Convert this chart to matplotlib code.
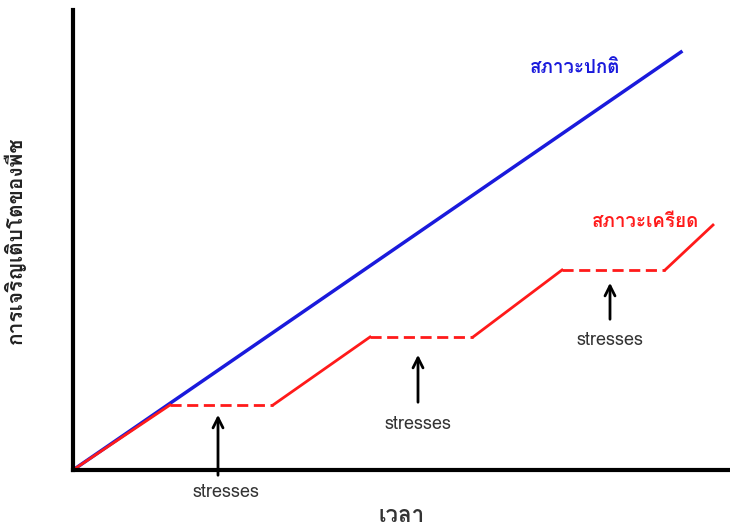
import matplotlib.pyplot as plt

plt.rcParams['font.family'] = ['Loma', 'DejaVu Sans']

# Data (time vs growth, in chart units)
normal_x = [0, 608]
normal_y = [0, 418]

stress_x = [0, 97, 200, 297, 400, 489, 592, 640]
stress_y = [0, 65, 65, 133, 133, 200, 200, 245]
# which red segments are dashed (stress periods)
stress_dashed = [False, True, False, True, False, True, False]

arrow_x = [145, 345, 537]
arrow_head = [58, 118, 190]
arrow_tail = [-8, 65, 148]
label_x = [153, 345, 537]
label_y = [-22, 46, 130]

fig = plt.figure(figsize=(7.3, 5.29), dpi=100)
ax = fig.add_axes([0.1, 0.1115, 0.9, 0.8696])
ax.set_xlim(0, 657)
ax.set_ylim(0, 460)

ax.plot(normal_x, normal_y, color='#1a1adc', lw=2.5)
for i, dashed in enumerate(stress_dashed):
    ax.plot(stress_x[i:i + 2], stress_y[i:i + 2], color='#ff1a1a', lw=2,
            ls=(0, (4, 2)) if dashed else '-')

for x, h, t in zip(arrow_x, arrow_head, arrow_tail):
    ax.annotate('', xy=(x, h), xytext=(x, t),
                arrowprops=dict(arrowstyle='->', lw=2, color='black', mutation_scale=18),
                annotation_clip=False)
for lx, ly in zip(label_x, label_y):
    ax.text(lx, ly, 'stresses', ha='center', va='center', fontsize=13,
            color='#333333', clip_on=False)

ax.text(502, 397, 'สภาวะปกติ', color='#1a1adc', fontsize=13.5,
        fontweight='bold', ha='center')
ax.text(572, 243, 'สภาวะเครียด', color='#ff1a1a', fontsize=13.5,
        fontweight='bold', ha='center')

ax.set_xlabel('เวลา', fontsize=16, fontweight='bold', labelpad=26, color='#333333')
ax.set_ylabel('การเจริญเติบโตของพืช', fontsize=15, fontweight='bold', labelpad=34,
              color='#222222')

for s in ['top', 'right']:
    ax.spines[s].set_visible(False)
for s in ['left', 'bottom']:
    ax.spines[s].set_linewidth(3)
ax.set_xticks([])
ax.set_yticks([])

fig.savefig('out.png', dpi=100)
